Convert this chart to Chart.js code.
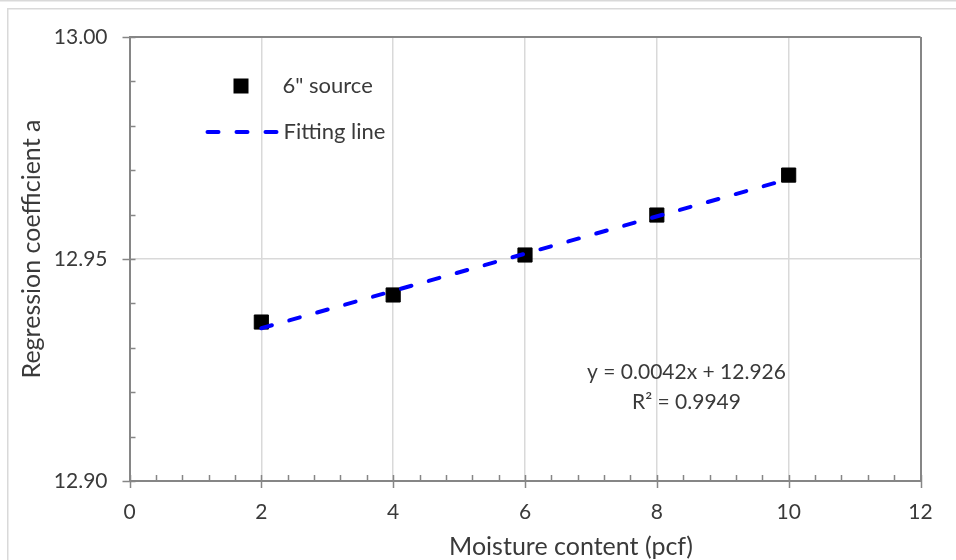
<!DOCTYPE html>
<html>
<head>
<meta charset="utf-8">
<script src="https://cdn.jsdelivr.net/npm/chart.js@4.4.1/dist/chart.umd.min.js"></script>
<style>
  html, body { margin: 0; padding: 0; background: #fff; }
  #wrap { width: 956px; height: 560px; }
</style>
</head>
<body>
<div id="wrap"><canvas id="chart" width="956" height="560"></canvas></div>
<script>
var moisture = [2, 4, 6, 8, 10];
var coefA = [12.9358, 12.9419, 12.9509, 12.9599, 12.9689];
var fitX = [2, 10];
var fitY = [12.9344, 12.9680];
var xTicks = [0, 2, 4, 6, 8, 10, 12];
var yTicks = [12.90, 12.95, 13.00];
var xMinorStep = 0.4;
var yMinorStep = 0.01;
var xTitle = 'Moisture content (pcf)';
var yTitle = 'Regression coefficient a';
var equationLines = ['y = 0.0042x + 12.926', 'R\u00b2 = 0.9949'];
var equationAt = { x: 8.45, y: 12.9212 };

var FONT = "Lato, 'Open Sans', sans-serif";
var TEXT = '#3a3a3a';
var AXIS = '#868686';
var GRID = '#d9d9d9';

function toPoints(xs, ys) {
  return xs.map(function (x, i) { return { x: x, y: ys[i] }; });
}

var framePlugin = {
  id: 'frame',
  beforeDraw: function (chart) {
    var ctx = chart.ctx;
    ctx.save();
    ctx.fillStyle = '#fff';
    ctx.fillRect(0, 0, chart.width, chart.height);
    ctx.strokeStyle = GRID;
    ctx.lineWidth = 1.5;
    ctx.beginPath();
    ctx.moveTo(0, 0.75);
    ctx.lineTo(chart.width, 0.75);
    ctx.stroke();
    ctx.strokeRect(7.75, 8.75, chart.width + 20, chart.height + 20);
    ctx.restore();
  },
  afterDraw: function (chart) {
    var ctx = chart.ctx;
    var xs = chart.scales.x;
    var ys = chart.scales.y;
    var area = chart.chartArea;
    ctx.save();
    ctx.strokeStyle = AXIS;
    ctx.lineWidth = 1.5;

    // y axis ticks
    for (var v = ys.min; v <= ys.max + 1e-9; v += yMinorStep) {
      var py = Math.round(ys.getPixelForValue(v)) + 0.5;
      var major = yTicks.some(function (t) { return Math.abs(t - v) < 1e-6; });
      ctx.beginPath();
      ctx.moveTo(area.left - (major ? 7 : 0), py);
      ctx.lineTo(area.left + 6, py);
      ctx.stroke();
    }

    // x axis ticks
    for (var u = xs.min; u <= xs.max + 1e-9; u += xMinorStep) {
      var px = Math.round(xs.getPixelForValue(u)) + 0.5;
      var isMajor = xTicks.some(function (t) { return Math.abs(t - u) < 1e-6; });
      ctx.beginPath();
      ctx.moveTo(px, area.bottom - 6);
      ctx.lineTo(px, area.bottom + (isMajor ? 7 : 0));
      ctx.stroke();
    }

    // axis titles
    ctx.fillStyle = TEXT;
    ctx.font = '25px ' + FONT;
    ctx.textAlign = 'center';
    ctx.textBaseline = 'alphabetic';
    ctx.fillText(xTitle, 571, 555);
    ctx.save();
    ctx.translate(40, 249);
    ctx.rotate(-Math.PI / 2);
    ctx.fillText(yTitle, 0, 0);
    ctx.restore();

    // legend
    ctx.font = '22px ' + FONT;
    ctx.textBaseline = 'middle';
    ctx.textAlign = 'left';
    var lx = area.left + 76;
    var ly1 = area.top + 49;
    var ly2 = area.top + 95;

    ctx.fillStyle = '#000';
    ctx.fillRect(lx + 28, ly1 - 7.5, 15, 15);

    ctx.strokeStyle = '#0000ff';
    ctx.lineWidth = 4;
    ctx.lineCap = 'round';
    ctx.setLineDash([11, 18]);
    ctx.beginPath();
    ctx.moveTo(lx + 2, ly2);
    ctx.lineTo(lx + 71, ly2);
    ctx.stroke();
    ctx.setLineDash([]);

    ctx.fillStyle = TEXT;
    ctx.fillText('6" source', lx + 77, ly1);
    ctx.fillText('Fitting line', lx + 78, ly2);

    // regression equation
    ctx.font = '21px ' + FONT;
    ctx.textAlign = 'center';
    var ex = xs.getPixelForValue(equationAt.x);
    var ey = ys.getPixelForValue(equationAt.y);
    ctx.fillText(equationLines[0], ex, ey - 15);
    ctx.fillText(equationLines[1], ex, ey + 15);
    ctx.restore();
  }
};

var chart = new Chart(document.getElementById('chart'), {
  type: 'scatter',
  data: {
    datasets: [{
      label: '6" source',
      data: toPoints(moisture, coefA),
      pointStyle: 'rect',
      pointRadius: 10,
      pointHoverRadius: 10,
      backgroundColor: '#000',
      borderColor: '#000',
      borderWidth: 1,
      order: 1
    }, {
      label: 'Fitting line',
      data: toPoints(fitX, fitY),
      showLine: true,
      borderColor: '#0000ff',
      borderWidth: 4,
      borderDash: [11, 18],
      borderCapStyle: 'round',
      pointRadius: 0,
      pointHoverRadius: 0,
      order: 0
    }]
  },
  options: {
    responsive: false,
    animation: false,
    devicePixelRatio: 1,
    layout: { padding: { top: 37, right: 35.5, left: 0, bottom: 0 } },
    plugins: {
      legend: { display: false },
      tooltip: { enabled: false }
    },
    scales: {
      x: {
        type: 'linear',
        min: 0,
        max: 12,
        afterBuildTicks: function (scale) {
          scale.ticks = xTicks.map(function (v) { return { value: v }; });
        },
        afterFit: function (scale) { scale.height = 79; },
        ticks: {
          color: TEXT,
          padding: 19,
          font: { family: FONT, size: 21 }
        },
        grid: {
          drawTicks: false,
          color: function (c) {
            if (!c.tick) return GRID;
            if (c.tick.value === 0) return 'rgba(0,0,0,0)';
            return c.tick.value === 12 ? AXIS : GRID;
          },
          lineWidth: function (c) { return c.tick && c.tick.value === 12 ? 2 : 1.5; }
        },
        border: { color: AXIS, width: 2 }
      },
      y: {
        type: 'linear',
        min: 12.90,
        max: 13.00,
        afterBuildTicks: function (scale) {
          scale.ticks = yTicks.map(function (v) { return { value: v }; });
        },
        afterFit: function (scale) { scale.width = 129.5; },
        ticks: {
          color: TEXT,
          padding: 22,
          font: { family: FONT, size: 21 },
          callback: function (v) { return Number(v).toFixed(2); }
        },
        grid: {
          drawTicks: false,
          color: function (c) {
            if (!c.tick) return GRID;
            if (Math.abs(c.tick.value - 12.90) < 1e-6) return 'rgba(0,0,0,0)';
            return Math.abs(c.tick.value - 13.00) < 1e-6 ? AXIS : GRID;
          },
          lineWidth: function (c) { return c.tick && Math.abs(c.tick.value - 13.00) < 1e-6 ? 2 : 1.5; }
        },
        border: { color: AXIS, width: 2 }
      }
    }
  },
  plugins: [framePlugin]
});
</script>
</body>
</html>
